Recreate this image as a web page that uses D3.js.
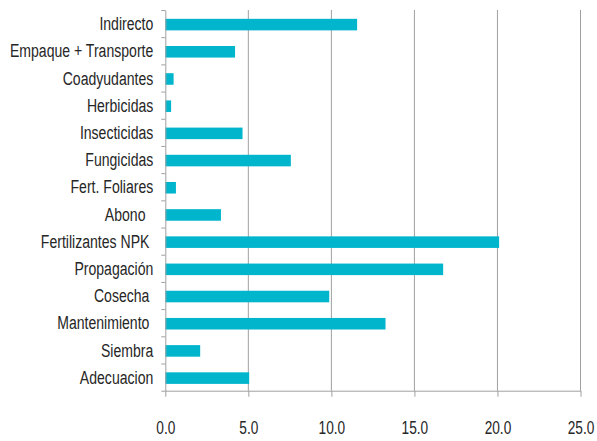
<!DOCTYPE html>
<html>
<head>
<meta charset="utf-8">
<script src="https://cdn.jsdelivr.net/npm/d3@7"></script>
<style>
  html, body { margin: 0; padding: 0; background: #fff; }
  svg { display: block; }
  text { font-family: "Liberation Sans", Arial, sans-serif; fill: #262626; white-space: pre; }
</style>
</head>
<body>
<svg id="chart" width="597" height="441"></svg>
<script>
// Data (top to bottom as in the reference)
const categories = [
  "Indirecto",
  "Empaque + Transporte",
  "Coadyudantes",
  "Herbicidas",
  "Insecticidas",
  "Fungicidas",
  "Fert. Foliares",
  "Abono  ",
  "Fertilizantes NPK ",
  "Propagación",
  "Cosecha ",
  "Mantenimiento ",
  "Siembra",
  "Adecuacion"
];
const values = [11.55, 4.2, 0.5, 0.35, 4.65, 7.56, 0.64, 3.35, 20.1, 16.73, 9.87, 13.26, 2.1, 5.05];
const xTicks = [0, 5, 10, 15, 20, 25];

const svg = d3.select("#chart");
const plotLeft = 165.3, plotRight = 580.5, plotTop = 10, plotBottom = 390.7;
const sx = 0.74; // horizontal condensation of labels

const x = d3.scaleLinear().domain([0, 25]).range([plotLeft, plotRight]);
const y = d3.scaleBand().domain(categories).range([plotTop, plotBottom]).paddingInner(0.575).paddingOuter(0.2875);
const yEdges = d3.scaleLinear().domain([0, categories.length]).range([plotTop, plotBottom]);

// Gridlines
svg.append("g")
  .selectAll("line")
  .data(xTicks.slice(1))
  .join("line")
  .attr("x1", d => x(d)).attr("x2", d => x(d))
  .attr("y1", plotTop).attr("y2", plotBottom)
  .attr("stroke", "#a0a0a0").attr("stroke-width", 1);

// Bars
svg.append("g")
  .selectAll("rect")
  .data(categories)
  .join("rect")
  .attr("x", x(0))
  .attr("y", d => y(d) + 1)
  .attr("width", (d, i) => x(values[i]) - x(0))
  .attr("height", y.bandwidth())
  .attr("fill", "#00b5cc");

// Bottom axis
const xAxis = svg.append("g")
  .attr("transform", `translate(0,${plotBottom})`)
  .call(d3.axisBottom(x).tickValues(xTicks).tickFormat(d3.format(".1f")).tickSizeInner(6).tickSizeOuter(0));
xAxis.select(".domain").attr("stroke", "#a0a0a0");
xAxis.selectAll(".tick line").attr("stroke", "#a0a0a0");
xAxis.selectAll(".tick text")
  .attr("y", 31)
  .attr("dy", "0.71em")
  .attr("transform", `scale(0.76,1)`)
  .style("font-size", "18px")
  .style("font-family", "'Liberation Sans', Arial, sans-serif")
  .attr("fill", "#262626");

// Left axis: boundary ticks
const yEdgeAxis = svg.append("g")
  .attr("transform", `translate(${plotLeft},0)`)
  .call(d3.axisLeft(yEdges).tickValues(d3.range(0, categories.length + 1)).tickFormat("").tickSizeInner(4).tickSizeOuter(0));
yEdgeAxis.select(".domain").attr("stroke", "#a0a0a0");
yEdgeAxis.selectAll(".tick line").attr("stroke", "#a0a0a0");

// Left axis: category labels
const yAxis = svg.append("g")
  .attr("transform", `translate(${plotLeft},0)`)
  .call(d3.axisLeft(y).tickSize(0).tickPadding(0));
yAxis.select(".domain").remove();
yAxis.selectAll(".tick text")
  .attr("x", 0)
  .attr("dy", "0.35em")
  .attr("transform", `translate(-12,0) scale(${sx},1)`)
  .style("font-size", "19px")
  .style("font-family", "'Liberation Sans', Arial, sans-serif")
  .attr("fill", "#262626");
</script>
</body>
</html>
